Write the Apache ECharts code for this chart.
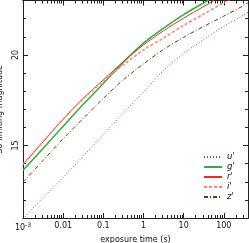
<!DOCTYPE html>
<html><head><meta charset="utf-8">
<script src="https://cdn.jsdelivr.net/npm/echarts@6/dist/echarts.min.js"></script>
<style>html,body{margin:0;padding:0;background:#fff}#c{width:249px;height:243px}</style>
</head><body><div id="c"></div>
<script>
const times = [0.001, 0.00316, 0.01, 0.0316, 0.1, 0.316, 1, 3.16, 10, 31.6, 100, 316, 400];
const uMag = [10.95, 12.12, 13.24, 14.42, 15.6, 16.8, 17.95, 19.14, 20.08, 20.85, 21.58, 22.2, 22.36];
const gMag = [13.63, 14.84, 16.06, 17.27, 18.42, 19.6, 20.65, 21.47, 22.22, 22.87, 23.5];
const rMag = [13.94, 15.2, 16.45, 17.6, 18.62, 19.63, 20.55, 21.33, 22.03, 22.67, 23.33];
const iMag = [13.97, 15.22, 16.46, 17.58, 18.57, 19.45, 20.27, 20.93, 21.63, 22.25, 22.88, 23.5];
const zMag = [12.98, 14.18, 15.37, 16.5, 17.6, 18.63, 19.5, 20.3, 20.97, 21.57, 22.14, 22.73, 22.88];
const seriesNames = ["u'", "g'", "r'", "i'", "z'"];
const xMajorTicks = [0.001, 0.01, 0.1, 1, 10, 100];
const xTickLabels = ['10{sup|-3}', '0.01', '0.1', '1', '10', '100'];
const xMinorTicks = [0.002,0.003,0.004,0.005,0.006,0.007,0.008,0.009,
  0.02,0.03,0.04,0.05,0.06,0.07,0.08,0.09,
  0.2,0.3,0.4,0.5,0.6,0.7,0.8,0.9,
  2,3,4,5,6,7,8,9,
  20,30,40,50,60,70,80,90,
  200,300,400];
const yMajorTicks = [15, 20];
const yMinorTicks = [11,12,13,14,16,17,18,19,21,22,23];

const FONT = 'DejaVu Sans';
const AX = '#222';
function pairs(mag){ return mag.map((m,i)=>[times[i], m]); }

function xAx(pos, major){
  const lab = major && pos==='bottom';
  return {
    type:'log', min:0.001, max:400, position:pos,
    axisLine:{show:true, lineStyle:{color:AX, width:1}},
    axisTick:{show:true, inside:true, length: major?5:3, lineStyle:{color:AX, width:1},
      customValues: major ? xMajorTicks : xMinorTicks},
    axisLabel:{show: lab, customValues: xMajorTicks, margin:4,
      fontFamily:FONT, fontSize:8, color:'#111',
      formatter:function(v){ const k = xMajorTicks.findIndex(t=>Math.abs(Math.log10(t)-Math.log10(v))<1e-6); return k>=0 ? xTickLabels[k] : ''; },
      rich:{sup:{fontSize:6, fontFamily:FONT, color:'#111', padding:[0,0,5,0]}}},
    splitLine:{show:false},
    name: lab ? 'exposure time (s)' : '',
    nameLocation:'middle', nameGap:15,
    nameTextStyle:{fontFamily:FONT, fontSize:8, color:'#111'}
  };
}
function yAx(pos, major){
  const lab = major && pos==='left';
  return {
    type:'value', min:11, max:23, position:pos,
    axisLine:{show:true, lineStyle:{color:AX, width:1}},
    axisTick:{show:true, inside:true, length: major?5:3, lineStyle:{color:AX, width:1},
      customValues: major ? yMajorTicks : yMinorTicks},
    axisLabel:{show: lab, customValues: yMajorTicks, rotate:90, margin:3,
      fontFamily:FONT, fontSize:8, color:'#111'},
    splitLine:{show:false},
    name: lab ? '5σ limiting magnitude' : '',
    nameLocation:'middle', nameGap:13,
    nameTextStyle:{fontFamily:FONT, fontSize:8, color:'#111'}
  };
}

const styles = [
  {color:'#9b33c4', width:1, type:[1,2]},
  {color:'#2fae3c', width:1.5, type:'solid'},
  {color:'#e0302c', width:1, type:'solid'},
  {color:'#f28a78', width:1.6, type:[3,2]},
  {color:'#6e3510', width:1, type:[4,2,1,2]}
];
const mags = [uMag, gMag, rMag, iMag, zMag];

const chart = echarts.init(document.getElementById('c'), null, {renderer:'canvas'});
chart.setOption({
  animation:false,
  backgroundColor:'#fff',
  grid:{left:23, right:1, top:0.5, bottom:25, outerBoundsMode:'none'},
  xAxis:[xAx('top',true), xAx('top',false), xAx('bottom',true), xAx('bottom',false)],
  yAxis:[yAx('left',true), yAx('left',false), yAx('right',true), yAx('right',false)],
  legend:{
    orient:'vertical', left:198, top:147, itemWidth:18, itemHeight:8, itemGap:0,
    itemStyle:{opacity:0},
    textStyle:{fontFamily:FONT, fontSize:8.5, fontStyle:'italic', color:'#111', lineHeight:10},
    data: seriesNames
  },
  series: mags.map((m,i)=>({
    name: seriesNames[i], type:'line', xAxisIndex:2, yAxisIndex:0,
    data: pairs(m), showSymbol:false, symbol:'none', smooth:0.3, clip:true,
    lineStyle: styles[i], itemStyle:{color:styles[i].color}
  }))
});
</script></body></html>
